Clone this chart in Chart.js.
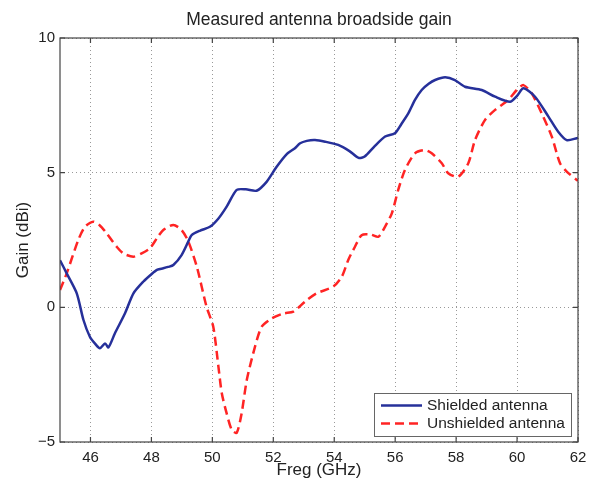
<!DOCTYPE html>
<html>
<head>
<meta charset="utf-8">
<script src="https://cdn.jsdelivr.net/npm/chart.js@4/dist/chart.umd.min.js"></script>
<style>
html,body{margin:0;padding:0;background:#fff;}
#wrap{width:595px;height:485px;position:relative;}
</style>
</head>
<body>
<div id="wrap"><canvas id="c" width="595" height="485"></canvas></div>
<script>
const chartTitle = "Measured antenna broadside gain";
const xTitle = "Freg (GHz)";
const yTitle = "Gain (dBi)";
const seriesNames = ["Shielded antenna", "Unshielded antenna"];
const xTicks = [46, 48, 50, 52, 54, 56, 58, 60, 62];
const yTicks = [-5, 0, 5, 10];

const freqShielded = [45.0,45.22,45.55,45.77,45.98,46.15,46.31,46.48,46.59,46.8,47.13,47.41,47.73,48.01,48.2,48.39,48.55,48.72,48.99,49.21,49.32,49.6,49.92,50.2,50.47,50.8,51.1,51.45,51.78,52.11,52.45,52.7,52.88,53.1,53.37,53.7,54.13,54.5,54.8,55.0,55.3,55.67,55.99,56.2,56.43,56.65,56.87,57.1,57.31,57.64,57.96,58.29,58.84,59.28,59.77,60.0,60.21,60.59,61.03,61.35,61.63,61.96,62.0];
const gainShielded = [1.75,1.26,0.52,-0.47,-1.09,-1.35,-1.52,-1.34,-1.49,-0.97,-0.23,0.52,0.95,1.24,1.4,1.45,1.5,1.57,1.94,2.44,2.68,2.85,2.99,3.3,3.74,4.36,4.38,4.33,4.66,5.22,5.7,5.9,6.09,6.18,6.21,6.15,6.03,5.8,5.55,5.6,5.95,6.34,6.46,6.8,7.2,7.7,8.07,8.3,8.44,8.54,8.44,8.19,8.07,7.82,7.63,7.85,8.13,7.82,7.08,6.52,6.21,6.28,6.3];

const freqUnshielded = [45.0,45.22,45.6,45.82,46.09,46.3,46.53,46.86,47.08,47.41,47.68,47.95,48.2,48.39,48.72,48.99,49.21,49.49,49.81,50.03,50.2,50.31,50.47,50.64,50.8,50.96,51.13,51.4,51.62,51.95,52.33,52.66,53.04,53.42,53.97,54.25,54.46,54.68,54.9,55.2,55.45,55.67,55.89,56.1,56.32,56.65,56.97,57.2,57.53,57.74,58.07,58.4,58.62,58.95,59.28,59.71,59.99,60.21,60.48,60.81,61.14,61.41,61.63,61.96,62.0];
const gainUnshielded = [0.64,1.26,2.5,2.99,3.18,3.05,2.75,2.25,2.0,1.88,2.0,2.19,2.6,2.87,3.06,2.87,2.45,1.51,0.02,-0.72,-2.21,-3.19,-3.94,-4.56,-4.66,-3.94,-2.7,-1.46,-0.72,-0.41,-0.23,-0.16,0.21,0.52,0.77,1.14,1.76,2.25,2.68,2.7,2.62,3.0,3.49,4.36,5.1,5.72,5.84,5.72,5.35,4.98,4.85,5.35,6.21,6.96,7.33,7.7,8.07,8.25,7.95,7.2,6.34,5.35,5.04,4.73,4.7];

const FONT = "'Liberation Sans', Arial, Helvetica, sans-serif";
const TEXT = "#222";
const BLUE = "#26309a";
const RED = "#ff2424";
const DASH = [9, 5];

function pts(xs, ys){ return xs.map((x,i)=>({x:x, y:ys[i]})); }

const decor = {
  id: 'decor',
  afterDraw(chart){
    const ctx = chart.ctx;
    const a = chart.chartArea;
    const xs = chart.scales.x, ys = chart.scales.y;
    ctx.save();
    // frame
    ctx.strokeStyle = "#444";
    ctx.lineWidth = 1.2;
    ctx.setLineDash([]);
    ctx.strokeRect(a.left, a.top, a.right - a.left, a.bottom - a.top);
    // inward ticks
    ctx.beginPath();
    xTicks.forEach(v=>{
      const px = xs.getPixelForValue(v);
      ctx.moveTo(px, a.bottom); ctx.lineTo(px, a.bottom - 5);
      ctx.moveTo(px, a.top); ctx.lineTo(px, a.top + 5);
    });
    yTicks.forEach(v=>{
      const py = ys.getPixelForValue(v);
      ctx.moveTo(a.left, py); ctx.lineTo(a.left + 5, py);
      ctx.moveTo(a.right, py); ctx.lineTo(a.right - 5, py);
    });
    ctx.stroke();
    // title
    ctx.fillStyle = TEXT;
    ctx.font = "17.5px " + FONT;
    ctx.textAlign = "center";
    ctx.textBaseline = "middle";
    ctx.fillText(chartTitle, (a.left + a.right)/2, 20);
    // legend
    const lx = 374, ly = 393, lw = 197, lh = 43;
    ctx.fillStyle = "#fff";
    ctx.fillRect(lx, ly, lw, lh);
    ctx.strokeStyle = "#666";
    ctx.lineWidth = 1;
    ctx.strokeRect(lx + 0.5, ly + 0.5, lw, lh);
    const rows = [ly + 12.5, ly + 30.5];
    const ds = chart.data.datasets;
    rows.forEach((ry, i)=>{
      ctx.beginPath();
      ctx.strokeStyle = ds[i].borderColor;
      ctx.lineWidth = ds[i].borderWidth;
      ctx.setLineDash(ds[i].borderDash || []);
      ctx.moveTo(381, ry); ctx.lineTo(422, ry);
      ctx.stroke();
      ctx.setLineDash([]);
      ctx.fillStyle = TEXT;
      ctx.font = "15.5px " + FONT;
      ctx.textAlign = "left";
      ctx.textBaseline = "middle";
      ctx.fillText(seriesNames[i], 427, ry + 0.5);
    });
    ctx.restore();
  }
};

new Chart(document.getElementById('c'), {
  type: 'line',
  data: {
    datasets: [
      { label: seriesNames[0], data: pts(freqShielded, gainShielded), borderColor: BLUE, borderWidth: 2.5, pointRadius: 0, tension: 0.25, fill: false },
      { label: seriesNames[1], data: pts(freqUnshielded, gainUnshielded), borderColor: RED, borderWidth: 2.5, borderDash: DASH, pointRadius: 0, tension: 0.25, fill: false }
    ]
  },
  options: {
    responsive: false,
    animation: false,
    layout: { padding: { left: 0, right: 17, top: 38, bottom: 0 } },
    plugins: { legend: { display: false }, title: { display: false }, tooltip: { enabled: false } },
    scales: {
      x: {
        type: 'linear', min: 45, max: 62,
        afterBuildTicks(s){ s.ticks = xTicks.map(v=>({value:v})); },
        afterFit(s){ s.height = 43; },
        grid: { color: "#999", lineWidth: 1, drawTicks: false },
        border: { display: false, dash: [1, 3] },
        ticks: { color: TEXT, font: { family: FONT, size: 15 }, padding: 7, maxRotation: 0, autoSkip: false },
        title: { display: true, text: xTitle, color: TEXT, font: { family: FONT, size: 17 }, padding: { top: 0, bottom: 4 } }
      },
      y: {
        type: 'linear', min: -5, max: 10,
        afterBuildTicks(s){ s.ticks = yTicks.map(v=>({value:v})); },
        afterFit(s){ s.width = 60; },
        grid: { color: "#999", lineWidth: 1, drawTicks: false },
        border: { display: false, dash: [1, 3] },
        ticks: { color: TEXT, font: { family: FONT, size: 15 }, padding: 5, autoSkip: false,
                 callback: v => (v < 0 ? "\u2212" + Math.abs(v) : String(v)) },
        title: { display: true, text: yTitle, color: TEXT, font: { family: FONT, size: 17 }, padding: { top: 13, bottom: 0 } }
      }
    }
  },
  plugins: [decor]
});
</script>
</body>
</html>
